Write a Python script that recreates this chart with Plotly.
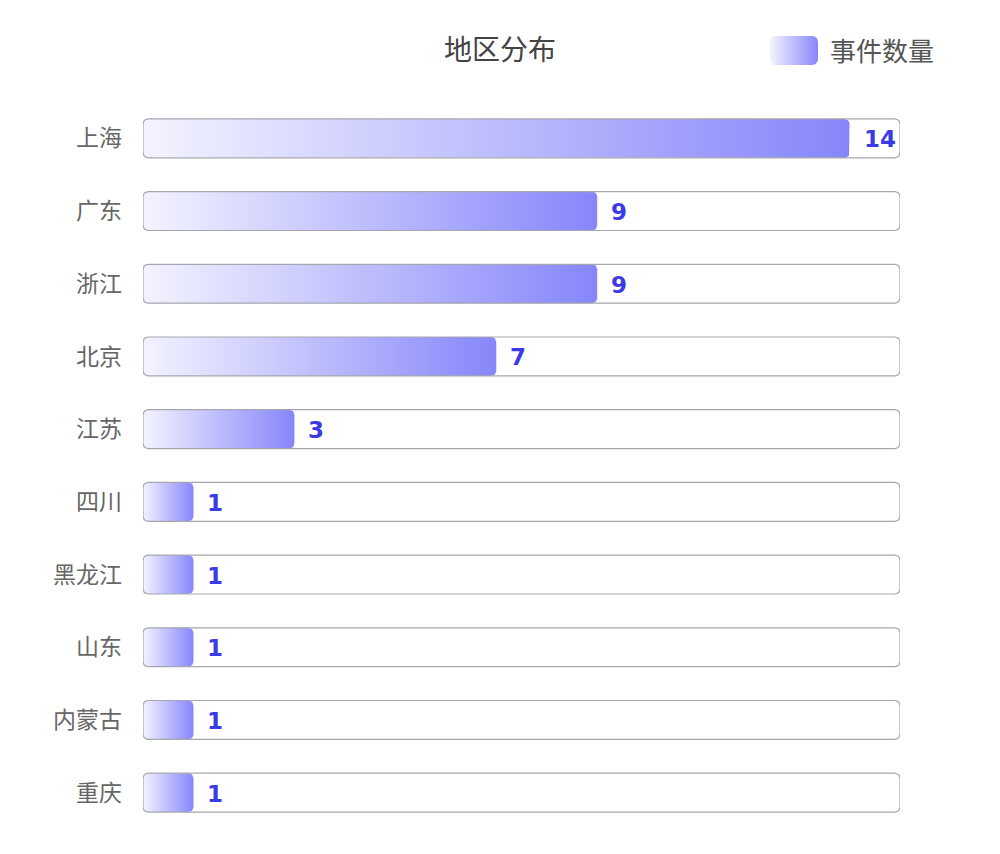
import numpy as np
import plotly.graph_objects as go

regions = ["上海", "广东", "浙江", "北京", "江苏", "四川", "黑龙江", "山东", "内蒙古", "重庆"]
counts = [14, 9, 9, 7, 3, 1, 1, 1, 1, 1]
axis_max = 15
series_name = "事件数量"
title_text = "地区分布"

W, H = 1000, 854
x_dom = [143 / W, 900 / W]
y_dom = [25 / H, 752 / H]
px_per_x = (x_dom[1] - x_dom[0]) * W / axis_max
px_per_y = (y_dom[1] - y_dom[0]) * H / len(regions)
ux, uy = 1 / px_per_x, 1 / px_per_y

grad = [[0, "#f3f3ff"], [1, "#8686fb"]]
bar_h = 0.535


def rrect(x0, x1, y0, y1, r, ux_, uy_):
    rx, ry = r * ux_, r * uy_
    pts = []
    corners = [
        (x1 - rx, y0 + ry, -90, 0),
        (x1 - rx, y1 - ry, 0, 90),
        (x0 + rx, y1 - ry, 90, 180),
        (x0 + rx, y0 + ry, 180, 270),
    ]
    for cx, cy, a0, a1 in corners:
        for a in np.linspace(np.radians(a0), np.radians(a1), 8):
            pts.append((cx + rx * np.cos(a), cy + ry * np.sin(a)))
    pts.append(pts[0])
    xs, ys = zip(*pts)
    return list(xs), list(ys)


fig = go.Figure()
# background tracks (white fill)
for i, _ in enumerate(regions):
    xs, ys = rrect(0, axis_max, i - bar_h / 2, i + bar_h / 2, 5, ux, uy)
    fig.add_trace(go.Scatter(x=xs, y=ys, fill="toself", fillcolor="white", mode="lines",
                             line=dict(width=0), hoverinfo="skip", showlegend=False, cliponaxis=False))
# gradient bars
for i, v in enumerate(counts):
    xs, ys = rrect(0, v, i - bar_h / 2, i + bar_h / 2, 5, ux, uy)
    fig.add_trace(go.Scatter(x=xs, y=ys, fill="toself", mode="lines", line=dict(width=0),
                             fillgradient=dict(type="horizontal", colorscale=grad),
                             hoverinfo="skip", showlegend=False, cliponaxis=False))
# track outlines on top
for i, _ in enumerate(regions):
    xs, ys = rrect(0, axis_max, i - bar_h / 2, i + bar_h / 2, 5, ux, uy)
    fig.add_trace(go.Scatter(x=xs, y=ys, mode="lines", line=dict(width=1.2, color="#a6a6b0"),
                             hoverinfo="skip", showlegend=False, cliponaxis=False))

# legend swatch on its own small axes
lx, ly = rrect(0, 48, 0, 29, 6, 1, 1)
fig.add_trace(go.Scatter(x=lx, y=ly, fill="toself", mode="lines", line=dict(width=0),
                         fillgradient=dict(type="horizontal", colorscale=grad),
                         xaxis="x2", yaxis="y2", hoverinfo="skip", showlegend=False, cliponaxis=False))

annotations = []
for i, v in enumerate(counts):
    annotations.append(dict(x=v, y=i, xref="x", yref="y", text=f"<b>{v}</b>", showarrow=False,
                            xanchor="left", yanchor="middle", xshift=12, yshift=-1,
                            font=dict(family="DejaVu Sans", size=23, color="#3b3be6")))
annotations.append(dict(x=828 / W, y=1 - 50 / H, xref="paper", yref="paper", text=series_name,
                        showarrow=False, xanchor="left", yanchor="middle",
                        font=dict(family="Noto Sans CJK SC", size=26, color="#555555")))

fig.update_layout(
    width=W, height=H,
    margin=dict(l=0, r=0, t=0, b=0),
    paper_bgcolor="white", plot_bgcolor="white",
    title=dict(text=title_text, x=0.5, xref="container", xanchor="center",
               y=1 - 50 / H, yref="container", yanchor="middle",
               font=dict(family="Noto Sans CJK SC", size=28, color="#444444")),
    xaxis=dict(domain=x_dom, range=[0, axis_max], visible=False, fixedrange=True),
    yaxis=dict(domain=y_dom, range=[len(regions) - 0.5, -0.5], tickvals=list(range(len(regions))),
               ticktext=regions, showgrid=False, zeroline=False, showline=False, ticks="",
               ticklabelstandoff=20,
               tickfont=dict(family="Noto Sans CJK SC", size=23, color="#666666")),
    xaxis2=dict(domain=[770 / W, 818 / W], range=[0, 48], visible=False, anchor="y2"),
    yaxis2=dict(domain=[1 - 65 / H, 1 - 36 / H], range=[0, 29], visible=False, anchor="x2"),
    annotations=annotations,
    showlegend=False,
)

fig.write_html("out.html")
